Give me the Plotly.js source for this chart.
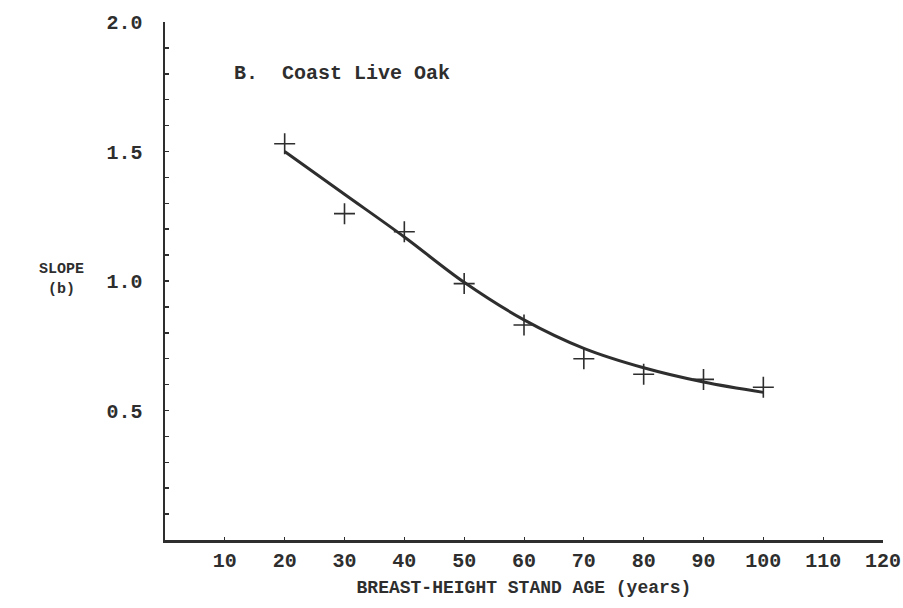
<!DOCTYPE html>
<html>
<head>
<meta charset="utf-8">
<script src="https://cdn.plot.ly/plotly-3.0.1.min.js"></script>
<style>
  html, body { margin: 0; padding: 0; background: #ffffff; }
  #chart { width: 903px; height: 608px; }
</style>
</head>
<body>
<div id="chart"></div>
<script>
// Observed slope (b) by breast-height stand age
const ageObs = [20, 30, 40, 50, 60, 70, 80, 90, 100];
const slopeObs = [1.53, 1.26, 1.19, 0.99, 0.83, 0.70, 0.64, 0.62, 0.59];

// Fitted curve
const ageFit = [20, 30, 40, 50, 60, 70, 80, 90, 100];
const slopeFit = [1.50, 1.335, 1.17, 0.995, 0.85, 0.74, 0.665, 0.61, 0.57];

// Axis ticks
const xTickVals = [10, 20, 30, 40, 50, 60, 70, 80, 90, 100, 110, 120];
const xTickText = ['10', '20', '30', '40', '50', '60', '70', '80', '90', '100', '110', '120'];
const yTickVals = [0.1, 0.2, 0.3, 0.4, 0.5, 0.6, 0.7, 0.8, 0.9, 1.0, 1.1, 1.2, 1.3, 1.4, 1.5, 1.6, 1.7, 1.8, 1.9, 2.0];
const yLabelled = ['0.5', '1.0', '1.5', '2.0'];

const ink = '#2e2e2e';
const typeFont = 'Liberation Mono, DejaVu Sans Mono, monospace';

const traces = [
  {
    x: ageFit, y: slopeFit,
    type: 'scatter', mode: 'lines',
    line: { color: ink, width: 3, shape: 'spline', smoothing: 1 },
    hoverinfo: 'skip'
  },
  {
    x: ageObs, y: slopeObs,
    type: 'scatter', mode: 'markers',
    marker: { symbol: 'cross-thin-open', size: 15, color: ink, line: { color: ink, width: 1.6 } }
  }
];

const layout = {
  width: 903, height: 608,
  margin: { l: 165, r: 20, t: 22, b: 68 },
  paper_bgcolor: '#ffffff',
  plot_bgcolor: '#ffffff',
  showlegend: false,
  font: { family: typeFont, color: ink },
  xaxis: {
    range: [0, 120],
    tickvals: xTickVals, ticktext: xTickText,
    ticks: 'inside', ticklen: 3, tickwidth: 1, tickcolor: ink,
    showline: true, linecolor: ink, linewidth: 2.5,
    showgrid: false, zeroline: false,
    tickfont: { family: typeFont, size: 20, color: ink, weight: 'bold' },
    ticklabelstandoff: 0,
    ticklabeloverflow: 'allow',
    title: { text: 'BREAST-HEIGHT STAND AGE (years)', font: { family: typeFont, size: 18, color: ink, weight: 'bold' }, standoff: 9 }
  },
  yaxis: {
    range: [0, 2.0],
    tickvals: yTickVals,
    ticktext: yTickVals.map(v => { const s = v.toFixed(1); return yLabelled.includes(s) ? s : ''; }),
    ticks: 'inside', ticklen: 4, tickwidth: 1.5, tickcolor: ink,
    showline: true, linecolor: ink, linewidth: 2.5,
    showgrid: false, zeroline: false,
    tickfont: { family: typeFont, size: 20, color: ink, weight: 'bold' },
    ticklabelstandoff: 16,
    ticklabeloverflow: 'allow'
  },
  annotations: [
    {
      text: 'B.  Coast Live Oak',
      x: 11.2, y: 1.80, xref: 'x', yref: 'y',
      xanchor: 'left', yanchor: 'middle', showarrow: false,
      font: { family: typeFont, size: 20, color: ink, weight: 'bold' }
    },
    {
      text: 'SLOPE<br>(b)',
      x: 37, y: 279, xref: 'paper', yref: 'paper',
      showarrow: false,
      font: { family: typeFont, size: 15, color: ink, weight: 'bold' }
    }
  ]
};

// Convert the y-title pixel position to paper fractions
layout.annotations[1].x = (37 - layout.margin.l) / (903 - layout.margin.l - layout.margin.r);
layout.annotations[1].y = (608 - layout.margin.b - 279) / (608 - layout.margin.t - layout.margin.b);

Plotly.newPlot('chart', traces, layout, { displayModeBar: false, staticPlot: true });
</script>
</body>
</html>
